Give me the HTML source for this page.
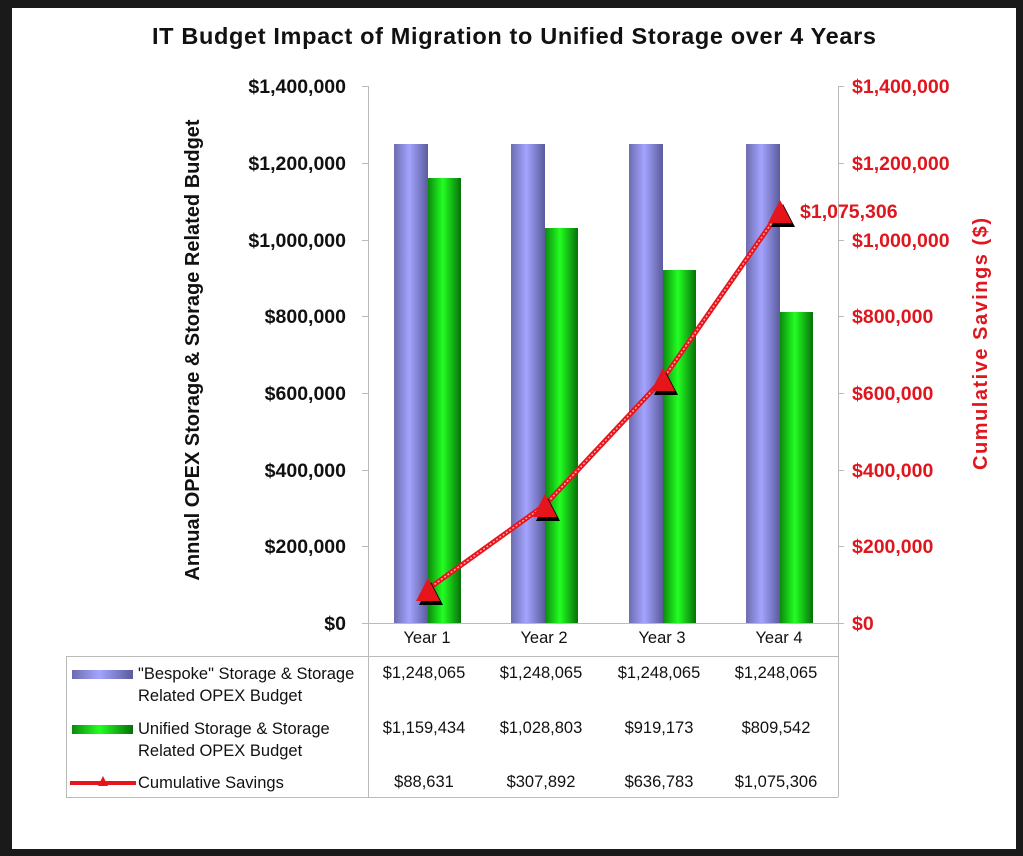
<!DOCTYPE html>
<html><head><style>
body{margin:0;width:1023px;height:856px;overflow:hidden;background:#1a1a1a}
svg{display:block}
text{font-family:"Liberation Sans",sans-serif}
</style></head><body>
<svg width="1023" height="856" xmlns="http://www.w3.org/2000/svg">
<defs>
<linearGradient id="gb" x1="0" x2="1" y1="0" y2="0">
<stop offset="0" stop-color="#6c6cb0"/><stop offset="0.45" stop-color="#a4a4ff"/><stop offset="1" stop-color="#5a5a9c"/></linearGradient>
<linearGradient id="gg" x1="0" x2="1" y1="0" y2="0">
<stop offset="0" stop-color="#0c8a0c"/><stop offset="0.45" stop-color="#22ff22"/><stop offset="1" stop-color="#087008"/></linearGradient>
</defs>
<rect x="12" y="8" width="1004" height="841" fill="#fff"/>
<text x="514" y="44" font-size="23.5" font-weight="bold" text-anchor="middle" fill="#111" textLength="724" lengthAdjust="spacing">IT Budget Impact of Migration to Unified Storage over 4 Years</text>
<g stroke="#bbb" stroke-width="1">
<line x1="368.5" y1="86" x2="368.5" y2="797"/>
<line x1="838.5" y1="86" x2="838.5" y2="797"/>
<line x1="362" y1="623.5" x2="844" y2="623.5"/>
<line x1="66" y1="656.5" x2="838" y2="656.5"/>
<line x1="66" y1="797.5" x2="838" y2="797.5"/>
<line x1="66.5" y1="656" x2="66.5" y2="797"/>
<line x1="362" y1="86.5" x2="368" y2="86.5"/><line x1="362" y1="163.5" x2="368" y2="163.5"/><line x1="362" y1="240.5" x2="368" y2="240.5"/><line x1="362" y1="316.5" x2="368" y2="316.5"/><line x1="362" y1="393.5" x2="368" y2="393.5"/><line x1="362" y1="470.5" x2="368" y2="470.5"/><line x1="362" y1="546.5" x2="368" y2="546.5"/>
<line x1="838" y1="86.5" x2="844" y2="86.5"/><line x1="838" y1="163.5" x2="844" y2="163.5"/><line x1="838" y1="240.5" x2="844" y2="240.5"/><line x1="838" y1="316.5" x2="844" y2="316.5"/><line x1="838" y1="393.5" x2="844" y2="393.5"/><line x1="838" y1="470.5" x2="844" y2="470.5"/><line x1="838" y1="546.5" x2="844" y2="546.5"/>
</g>
<g font-size="19.5" font-weight="bold" fill="#111" text-anchor="end">
<text x="346" y="93">$1,400,000</text><text x="346" y="170">$1,200,000</text><text x="346" y="247">$1,000,000</text><text x="346" y="323">$800,000</text><text x="346" y="400">$600,000</text><text x="346" y="477">$400,000</text><text x="346" y="553">$200,000</text><text x="346" y="630">$0</text>
</g>
<g font-size="19.5" font-weight="bold" fill="#e0161e">
<text x="852" y="93">$1,400,000</text><text x="852" y="170">$1,200,000</text><text x="852" y="247">$1,000,000</text><text x="852" y="323">$800,000</text><text x="852" y="400">$600,000</text><text x="852" y="477">$400,000</text><text x="852" y="553">$200,000</text><text x="852" y="630">$0</text>
<text transform="translate(987,344) rotate(-90)" text-anchor="middle" font-size="20" textLength="252" lengthAdjust="spacing">Cumulative Savings ($)</text>
</g>
<text transform="translate(199,350) rotate(-90)" text-anchor="middle" font-size="20" font-weight="bold" fill="#111">Annual OPEX Storage &amp; Storage Related Budget</text>
<rect x="394" y="144" width="34" height="479" fill="url(#gb)"/><rect x="428" y="178" width="33" height="445" fill="url(#gg)"/>
<rect x="511" y="144" width="34" height="479" fill="url(#gb)"/><rect x="545" y="228" width="33" height="395" fill="url(#gg)"/>
<rect x="629" y="144" width="34" height="479" fill="url(#gb)"/><rect x="663" y="270" width="33" height="353" fill="url(#gg)"/>
<rect x="746" y="144" width="34" height="479" fill="url(#gb)"/><rect x="780" y="312" width="33" height="311" fill="url(#gg)"/>
<polyline points="428,589 545,505 663,379 780,211" fill="none" stroke="#e8141c" stroke-width="5"/>
<polyline points="428,589 545,505 663,379 780,211" fill="none" stroke="#ffaaaa" stroke-width="1.5" stroke-dasharray="2 2"/>
<g>
<polygon points="431,582 443,605 419,605" fill="#000"/><polygon points="428,578 440,601 416,601" fill="#e8141c"/>
<polygon points="548,498 560,521 536,521" fill="#000"/><polygon points="545,494 557,517 533,517" fill="#e8141c"/>
<polygon points="666,372 678,395 654,395" fill="#000"/><polygon points="663,368 675,391 651,391" fill="#e8141c"/>
<polygon points="783,204 795,227 771,227" fill="#000"/><polygon points="780,200 792,223 768,223" fill="#e8141c"/>
</g>
<text x="800" y="218" font-size="19.5" font-weight="bold" fill="#e0161e">$1,075,306</text>
<g font-size="16.5" fill="#111" text-anchor="middle">
<text x="427" y="643">Year 1</text><text x="544" y="643">Year 2</text><text x="662" y="643">Year 3</text><text x="779" y="643">Year 4</text>
<text x="424" y="678">$1,248,065</text><text x="541" y="678">$1,248,065</text><text x="659" y="678">$1,248,065</text><text x="776" y="678">$1,248,065</text>
<text x="424" y="733">$1,159,434</text><text x="541" y="733">$1,028,803</text><text x="659" y="733">$919,173</text><text x="776" y="733">$809,542</text>
<text x="424" y="787">$88,631</text><text x="541" y="787">$307,892</text><text x="659" y="787">$636,783</text><text x="776" y="787">$1,075,306</text>
</g>
<rect x="72" y="670" width="61" height="9" fill="url(#gb)"/>
<rect x="72" y="725" width="61" height="9" fill="url(#gg)"/>
<line x1="70" y1="783" x2="136" y2="783" stroke="#e8141c" stroke-width="4"/>
<polygon points="103,776 108,786 98,786" fill="#e8141c"/>
<g font-size="16.5" fill="#111">
<text x="138" y="679">"Bespoke" Storage &amp; Storage</text><text x="138" y="701">Related OPEX Budget</text>
<text x="138" y="734">Unified Storage &amp; Storage</text><text x="138" y="756">Related OPEX Budget</text>
<text x="138" y="788">Cumulative Savings</text>
</g>
</svg>
</body></html>
